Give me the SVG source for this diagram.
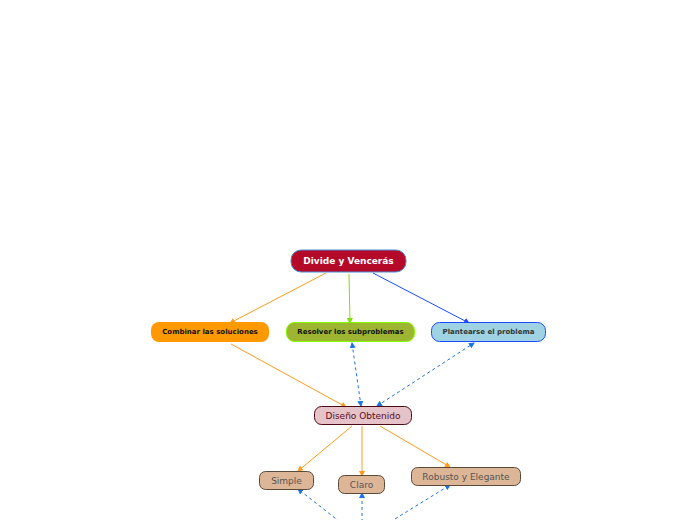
<svg xmlns="http://www.w3.org/2000/svg" width="696" height="520" viewBox="0 0 696 520">
<style>
text{font-family:Verdana,"DejaVu Sans",sans-serif;text-anchor:middle;dominant-baseline:central}
.b{font-weight:bold;font-size:7px}
.n{font-size:9px}
.o{stroke:#ff9c1a;fill:none;stroke-width:1}
.d{stroke:#1a73e8;fill:none;stroke-width:1;stroke-dasharray:3,3}
</style>
<defs>
<marker id="ao" markerWidth="6" markerHeight="6" refX="5" refY="3" orient="auto" markerUnits="userSpaceOnUse"><path d="M0,0L6,3L0,6z" fill="#ff9c1a"/></marker>
<marker id="ag" markerWidth="6" markerHeight="6" refX="5" refY="3" orient="auto" markerUnits="userSpaceOnUse"><path d="M0,0L6,3L0,6z" fill="#7fe000"/></marker>
<marker id="ab" markerWidth="6" markerHeight="6" refX="5" refY="3" orient="auto" markerUnits="userSpaceOnUse"><path d="M0,0L6,3L0,6z" fill="#1a4cff"/></marker>
<marker id="ad" markerWidth="6" markerHeight="6" refX="5" refY="3" orient="auto" markerUnits="userSpaceOnUse"><path d="M0,0L6,3L0,6z" fill="#1a73e8"/></marker>
<marker id="ads" markerWidth="6" markerHeight="6" refX="1" refY="3" orient="auto" markerUnits="userSpaceOnUse"><path d="M6,0L0,3L6,6z" fill="#1a73e8"/></marker>
</defs>
<rect width="696" height="520" fill="#fff"/>
<g id="connectors">
<line x1="326" y1="273" x2="230" y2="323" class="o" marker-end="url(#ao)"/>
<line x1="349" y1="274" x2="350" y2="323" stroke="#7fe000" marker-end="url(#ag)"/>
<line x1="373" y1="273" x2="469" y2="323" stroke="#1a4cff" marker-end="url(#ab)"/>
<line x1="231" y1="344" x2="346" y2="407" class="o" marker-end="url(#ao)"/>
<line x1="361" y1="406" x2="352" y2="343" class="d" marker-start="url(#ads)" marker-end="url(#ad)"/>
<line x1="377" y1="406" x2="474" y2="343" class="d" marker-start="url(#ads)" marker-end="url(#ad)"/>
<line x1="352" y1="426" x2="298" y2="471" class="o" marker-end="url(#ao)"/>
<line x1="362" y1="426" x2="362" y2="476" class="o" marker-end="url(#ao)"/>
<line x1="380" y1="426" x2="450" y2="467" class="o" marker-end="url(#ao)"/>
<line x1="340" y1="522" x2="298" y2="489" class="d" marker-end="url(#ad)"/>
<line x1="362" y1="522" x2="362" y2="493" class="d" marker-end="url(#ad)"/>
<line x1="390" y1="522" x2="450" y2="485" class="d" marker-end="url(#ad)"/>
</g>
<g id="root"><rect x="291" y="250" width="115" height="22" rx="10" fill="#b5092a" stroke="#4a8fd4" stroke-width="1"/><text x="348.5" y="261" class="b" style="font-size:9px" fill="#fff">Divide y Vencerás</text></g>
<g id="combinar"><rect x="151" y="322" width="118" height="20" rx="8" fill="#ff9900"/><text x="210" y="332" class="b" fill="#111">Combinar las soluciones</text></g>
<g id="resolver"><rect x="286.5" y="322.5" width="128" height="19" rx="8" fill="#9db531" stroke="#80ff00"/><text x="350.5" y="332" class="b" fill="#111">Resolver los subproblemas</text></g>
<g id="plantearse"><rect x="431.5" y="322.5" width="114" height="19" rx="8" fill="#9fd3e3" stroke="#1a4cff"/><text x="488.5" y="332" class="b" fill="#333">Plantearse el problema</text></g>
<g id="diseno"><rect x="314.5" y="406.5" width="97" height="18" rx="7" fill="#e6c3c8" stroke="#4a0a14"/><text x="363" y="415.5" class="n" fill="#5a0a1a">Diseño Obtenido</text></g>
<g id="simple"><rect x="259.5" y="471.5" width="54" height="18" rx="6" fill="#ddb697" stroke="#5a4a3a"/><text x="286.5" y="480.5" class="n" fill="#555">Simple</text></g>
<g id="claro"><rect x="338.5" y="475.5" width="46" height="18" rx="6" fill="#ddb697" stroke="#5a4a3a"/><text x="361.5" y="484.5" class="n" fill="#555">Claro</text></g>
<g id="robusto"><rect x="411.5" y="467.5" width="109" height="18" rx="6" fill="#ddb697" stroke="#5a4a3a"/><text x="466" y="476.5" class="n" fill="#555">Robusto y Elegante</text></g>
</svg>
